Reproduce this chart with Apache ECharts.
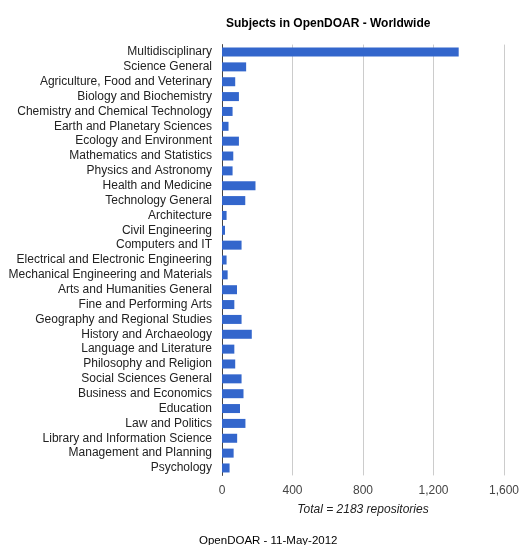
<!DOCTYPE html>
<html><head><meta charset="utf-8">
<script src="https://cdn.jsdelivr.net/npm/echarts@6/dist/echarts.min.js"></script>
<style>html,body{margin:0;padding:0;background:#fff}#c{width:522px;height:545px}</style>
</head><body><div id="c"></div>
<script>
const categories = ["Multidisciplinary","Science General","Agriculture, Food and Veterinary","Biology and Biochemistry","Chemistry and Chemical Technology","Earth and Planetary Sciences","Ecology and Environment","Mathematics and Statistics","Physics and Astronomy","Health and Medicine","Technology General","Architecture","Civil Engineering","Computers and IT","Electrical and Electronic Engineering","Mechanical Engineering and Materials","Arts and Humanities General","Fine and Performing Arts","Geography and Regional Studies","History and Archaeology","Language and Literature","Philosophy and Religion","Social Sciences General","Business and Economics","Education","Law and Politics","Library and Information Science","Management and Planning","Psychology"];
const values = [1343,137,75,96,60,37,96,64,60,190,132,26,17,111,26,32,85,70,111,169,70,75,111,122,102,133,86,66,43];
const xTicks = [0,400,800,1200,1600];
const titleText = "Subjects in OpenDOAR - Worldwide";
const axisTitle = "Total = 2183 repositories";
const footer = "OpenDOAR - 11-May-2012";

const chart = echarts.init(document.getElementById('c'), null, {renderer:'canvas'});
const font = "'Liberation Sans', Arial, sans-serif";
chart.setOption({
  animation:false,
  textStyle:{fontFamily:font},
  title:{text:titleText, left:221, top:13, textStyle:{fontSize:12, fontWeight:'bold', color:'#000', fontFamily:font}},
  graphic:[{type:'text', left:199, top:535, style:{text:footer, fontSize:11.5, fill:'#000', fontFamily:font}}],
  grid:{left:222, right:16, top:44.6, bottom:69.6, containLabel:false},
  xAxis:{type:'value', min:0, max:1600, interval:400,
    axisLabel:{color:'#444', fontSize:12, margin:9, formatter:v=>v.toLocaleString('en-US')},
    axisLine:{show:false}, axisTick:{show:false},
    splitLine:{lineStyle:{color:'#cccccc'}},
    name:axisTitle, nameLocation:'middle', nameGap:28,
    nameTextStyle:{fontStyle:'italic', fontSize:12, color:'#222'}},
  yAxis:{type:'category', data:categories, inverse:true,
    axisLabel:{color:'#222', fontSize:12, margin:10, interval:0},
    axisTick:{show:false}, axisLine:{show:true, lineStyle:{color:'#444'}}},
  series:[{type:'bar', data:values, barWidth:9, itemStyle:{color:'#3366cc'}}]
});
</script></body></html>
